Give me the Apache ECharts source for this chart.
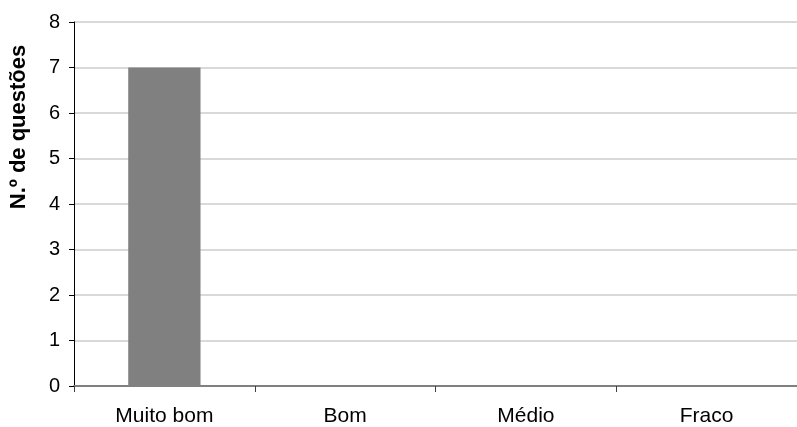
<!DOCTYPE html>
<html><head><meta charset="utf-8">
<script src="https://cdn.jsdelivr.net/npm/echarts@6/dist/echarts.min.js"></script>
<style>html,body{margin:0;padding:0;background:#fff}#c{width:797px;height:427px}</style>
</head><body><div id="c"></div>
<script>
const categories = ['Muito bom', 'Bom', 'Médio', 'Fraco'];
const values = [7, 0, 0, 0];
const yAxisTitle = 'N.º de questões';
const chart = echarts.init(document.getElementById('c'), null, {renderer: 'canvas'});
chart.setOption({
  animation: false,
  backgroundColor: '#fff',
  grid: {left: 74, right: -5, top: 22, bottom: 40, containLabel: false},
  graphic: [{
    type: 'text', x: 19, y: 127, rotation: Math.PI / 2,
    style: {text: yAxisTitle, fill: '#000', font: 'bold 22px "Liberation Sans"',
            textAlign: 'center', textVerticalAlign: 'middle'}
  }],
  xAxis: {
    type: 'category', data: categories,
    axisLine: {lineStyle: {color: '#808080', width: 2}},
    axisTick: {show: true, length: 6, lineStyle: {color: '#404040', width: 1}},
    axisLabel: {color: '#000', fontFamily: 'Liberation Sans', fontSize: 21, margin: 20}
  },
  yAxis: {
    type: 'value', min: 0, max: 8, interval: 1,
    axisLine: {show: true, lineStyle: {color: '#000', width: 1}},
    axisTick: {show: true, length: 5, lineStyle: {color: '#000'}},
    axisLabel: {color: '#000', fontFamily: 'Liberation Sans', fontSize: 20, margin: 14},
    splitLine: {lineStyle: {color: '#d9d9d9', width: 2}}
  },
  series: [{
    type: 'bar', data: values, barWidth: '40%',
    itemStyle: {color: '#808080'}
  }]
});
</script></body></html>
